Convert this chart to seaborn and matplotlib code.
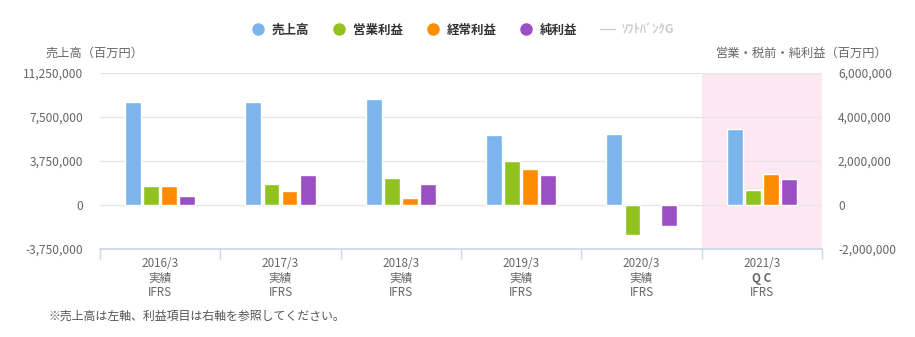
import matplotlib
matplotlib.use("Agg")
import matplotlib.pyplot as plt
from matplotlib.lines import Line2D
import matplotlib.ticker as mticker
import numpy as np
import pandas as pd
import seaborn as sns

sns.set_theme(style="white")
plt.rcParams['font.family'] = ['Noto Sans CJK JP', 'DejaVu Sans']

# ---- data (百万円) ----
periods = ["2016/3", "2017/3", "2018/3", "2019/3", "2020/3", "2021/3"]
kinds = ["実績", "実績", "実績", "実績", "実績", "Q C"]
standards = ["IFRS"] * 6
sales = [8740000, 8800000, 9060000, 5980000, 6070000, 6500000]          # 売上高 (left axis)
operating = [870000, 960000, 1230000, 2000000, -1370000, 680000]        # 営業利益
ordinary = [870000, 650000, 320000, 1640000, np.nan, 1410000]           # 経常利益
net = [410000, 1370000, 960000, 1370000, -960000, 1180000]              # 純利益
series = ["売上高", "営業利益", "経常利益", "純利益"]
colors = ["#7cb5ec", "#90c31f", "#ff8c00", "#9b4fc4"]
left_ticks = [-3750000, 0, 3750000, 7500000, 11250000]
right_ticks = [-2000000, 0, 2000000, 4000000, 6000000]

df_left = pd.DataFrame({"period": periods, "series": "売上高", "value": sales})
df_right = pd.concat([
    pd.DataFrame({"period": periods, "series": "営業利益", "value": operating}),
    pd.DataFrame({"period": periods, "series": "経常利益", "value": ordinary}),
    pd.DataFrame({"period": periods, "series": "純利益", "value": net}),
], ignore_index=True).dropna()

W, H = 915, 337
fig = plt.figure(figsize=(W / 100, H / 100), dpi=100)
ax = fig.add_axes([100 / W, 1 - 249 / H, 722 / W, 176 / H])
ax2 = ax.twinx()

pal = dict(zip(series, colors))
ax.axvspan(4.5, 5.5, color="#fde8f1", zorder=0, lw=0)

common = dict(x="period", y="value", hue="series", hue_order=series, order=periods,
              palette=pal, width=0.6, gap=0.12, legend=False, dodge=True, saturation=1,
              edgecolor="white", linewidth=1, errorbar=None)
sns.barplot(data=df_left, ax=ax, **common)
sns.barplot(data=df_right, ax=ax2, **common)

for a in (ax, ax2):
    a.set_xlim(-0.5, 5.5)
    a.set_xlabel("")
    a.set_ylabel("")
    for s in a.spines.values():
        s.set_visible(False)
ax.set_ylim(-3750000, 11250000)
ax2.set_ylim(-2000000, 6000000)
ax.set_yticks(left_ticks)
ax2.set_yticks(right_ticks)
fmt = mticker.FuncFormatter(lambda v, p: f"{int(v):,}")
ax.yaxis.set_major_formatter(fmt)
ax2.yaxis.set_major_formatter(fmt)
ax.tick_params(axis="y", length=0, pad=12, labelsize=8.6, labelcolor="#666666")
ax2.tick_params(axis="y", length=0, pad=11.5, labelsize=8.6, labelcolor="#666666")
ax.yaxis.grid(True, color="#e6e6e6", lw=1, zorder=0.5)
ax.set_axisbelow(True)
ax2.grid(False)

ax.spines["bottom"].set_visible(True)
ax.spines["bottom"].set_color("#ccd6eb")
ax.spines["bottom"].set_zorder(3)
ax.set_xticks(range(len(periods)))
ax.set_xticklabels([])
ax.set_xticks(np.arange(-0.5, 6, 1), minor=True)
ax.tick_params(axis="x", which="major", length=0)
ax.tick_params(axis="x", which="minor", length=7, color="#ccd6eb", width=1, bottom=True)
ax2.set_xticks([])

tr = ax.get_xaxis_transform()
for i, (p, k, s) in enumerate(zip(periods, kinds, standards)):
    ax.annotate(p, (i, 0), xycoords=tr, xytext=(0, -10.5), textcoords="offset points",
                ha="center", va="center", fontsize=8.4, color="#666666")
    ax.annotate(k, (i, 0), xycoords=tr, xytext=(0, -21), textcoords="offset points",
                ha="center", va="center", fontsize=8.4, color="#666666",
                fontweight="bold" if k == "Q C" else "normal")
    ax.annotate(s, (i, 0), xycoords=tr, xytext=(0, -31.5), textcoords="offset points",
                ha="center", va="center", fontsize=8.4, color="#666666")

fig.text(94 / W, 1 - 53 / H, "売上高（百万円）", ha="center", va="center",
         fontsize=8.8, color="#666666")
fig.text(802 / W, 1 - 53 / H, "営業・税前・純利益（百万円）", ha="center", va="center",
         fontsize=8.8, color="#666666")
fig.text(48 / W, 1 - 316 / H, "※売上高は左軸、利益項目は右軸を参照してください。",
         ha="left", va="center", fontsize=8.6, color="#555555")

handles = [Line2D([], [], marker="o", ls="none", markersize=8, color=c) for c in colors]
handles.append(Line2D([], [], color="#cccccc", lw=1))
labels = series + ["ｿﾌﾄﾊﾞﾝｸG"]
leg = fig.legend(handles, labels, loc="center", bbox_to_anchor=(462 / W, 1 - 30 / H),
                 ncol=5, frameon=False, fontsize=9, handlelength=1.2, handletextpad=0.5,
                 columnspacing=1.8)
for t, c in zip(leg.get_texts(), ["#333333"] * 4 + ["#cccccc"]):
    t.set_color(c)
    t.set_fontweight("bold")

fig.savefig("out.png", dpi=100)
